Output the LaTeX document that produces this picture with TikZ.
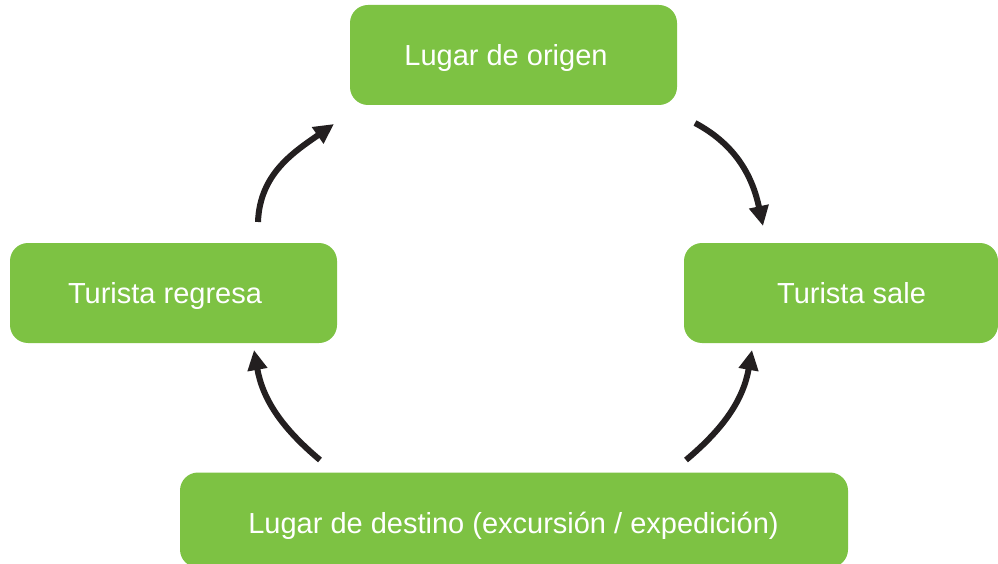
\documentclass[tikz,border=0pt]{standalone}
\usepackage{fontspec}
\setmainfont{Liberation Sans}
\usetikzlibrary{arrows.meta}
\definecolor{boxgreen}{RGB}{125,194,67}
\definecolor{arrowblack}{RGB}{35,31,32}
\begin{document}
\begin{tikzpicture}[x=1pt,y=1pt,
  greenbox/.style={fill=boxgreen,draw=none,rounded corners=18pt,inner sep=0pt},
  lbl/.style={text=white,font=\fontsize{29}{32}\selectfont,inner sep=0pt,anchor=base},
  cyc/.style={draw=arrowblack,line width=6pt,-{Triangle[length=20pt,width=19pt]}}]
\useasboundingbox (0,0) rectangle (998,-564);
\node[greenbox,minimum width=327pt,minimum height=100pt] (origen) at (513.5,-55) {};
\node[greenbox,minimum width=314pt,minimum height=100pt] (sale) at (841,-293) {};
\node[greenbox,minimum width=327pt,minimum height=100pt] (regresa) at (173.5,-293) {};
\node[greenbox,minimum width=668pt,minimum height=95pt] (destino) at (514,-520) {};
\node[lbl] (torigen) at (506,-66) {Lugar de origen};
\node[lbl] (tsale) at (851.5,-303) {Turista sale};
\node[lbl] (tregresa) at (165,-303) {Turista regresa};
\node[lbl] (tdestino) at (513.5,-533) {Lugar de destino (excursión / expedición)};
\coordinate (a1s) at (695,-123);
\coordinate (a1e) at (763,-226);
\coordinate (a2s) at (686,-460);
\coordinate (a2e) at (752,-350);
\coordinate (a3s) at (320,-460);
\coordinate (a3e) at (254,-350);
\coordinate (a4s) at (258,-222);
\coordinate (a4e) at (334,-124);
\draw[cyc] (a1s) to[out=-28,in=102] (a1e);
\draw[cyc] (a2s) to[out=40,in=-100] (a2e);
\draw[cyc] (a3s) to[out=140,in=-80] (a3e);
\draw[cyc] (a4s) to[out=88,in=-145] (a4e);
\end{tikzpicture}
\end{document}
